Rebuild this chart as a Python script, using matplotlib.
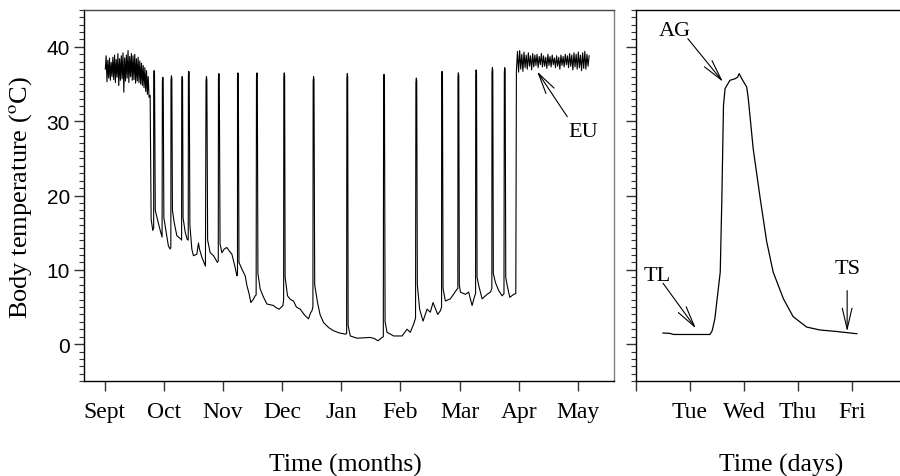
import matplotlib
matplotlib.use("Agg")
import matplotlib.pyplot as plt
import numpy as np

# ---------------- data ----------------
month_labels = ["Sept", "Oct", "Nov", "Dec", "Jan", "Feb", "Mar", "Apr", "May"]
day_labels = ["", "Tue", "Wed", "Thu", "Fri"]

# early-autumn euthermic record (month units, Sept = 0)
eu1_start, eu1_end = 0.01, 0.75
eu1_temp = [37.0, 38.8, 35.3, 38.2, 35.8, 38.5, 35.5, 37.9, 36.0, 38.6, 35.6, 38.9,
            35.2, 38.3, 35.9, 39.1, 34.8, 38.4, 35.5, 38.8, 35.7, 39.2, 33.9, 38.5,
            35.4, 38.9, 35.8, 39.5, 35.2, 38.7, 36.0, 39.1, 35.5, 38.8, 35.6, 39.0,
            35.1, 38.4, 35.4, 38.6, 35.2, 38.1, 35.0, 37.8, 34.8, 37.5, 34.5, 37.2,
            34.0, 36.8, 33.6, 36.0, 33.2]

# periodic arousals: time (months) and peak body temperature
arousal_t = [0.835, 0.982, 1.128, 1.309, 1.422, 1.720, 1.930, 2.252, 2.573, 3.035,
             3.531, 4.101, 4.722, 5.268, 5.703, 5.979, 6.279, 6.554, 6.763]
arousal_peak = [36.8, 35.9, 36.1, 36.0, 36.7, 36.0, 36.4, 36.5, 36.5, 36.5,
                36.0, 36.4, 36.3, 35.8, 36.7, 36.5, 36.9, 37.2, 37.2]

# torpor bouts (time in months, body temperature)
bouts = [
    [(0.768, 33.5), (0.785, 16.8), (0.813, 15.3), (0.828, 15.6)],
    [(0.855, 18.0), (0.925, 15.7), (0.970, 14.4)],
    [(1.000, 17.0), (1.077, 13.2), (1.106, 12.8), (1.118, 13.0)],
    [(1.145, 18.0), (1.174, 16.4), (1.219, 14.6), (1.292, 14.1), (1.300, 14.0)],
    [(1.325, 17.0), (1.360, 15.1), (1.394, 14.1), (1.412, 14.0)],
    [(1.440, 16.0), (1.473, 12.8), (1.500, 11.9), (1.558, 12.1), (1.585, 13.6),
     (1.602, 12.8), (1.642, 11.7), (1.703, 10.5)],
    [(1.740, 14.0), (1.783, 12.3), (1.839, 11.9), (1.906, 11.0), (1.920, 11.2)],
    [(1.950, 13.5), (1.981, 12.3), (2.020, 12.8), (2.065, 13.0), (2.100, 12.6),
     (2.150, 12.1), (2.200, 10.5), (2.235, 9.2), (2.245, 9.5)],
    [(2.270, 11.0), (2.319, 10.1), (2.375, 9.2), (2.404, 7.9), (2.440, 6.8),
     (2.471, 5.6), (2.510, 6.0), (2.544, 6.5), (2.560, 6.6)],
    [(2.590, 9.5), (2.629, 7.4), (2.680, 6.4), (2.742, 5.4), (2.854, 5.2),
     (2.900, 4.9), (2.950, 4.7), (3.013, 5.2), (3.025, 6.0)],
    [(3.050, 9.0), (3.091, 6.5), (3.140, 6.0), (3.192, 5.8), (3.240, 5.0),
     (3.306, 4.7), (3.380, 3.9), (3.446, 3.4), (3.480, 4.2), (3.504, 4.5), (3.520, 5.0)],
    [(3.550, 8.0), (3.598, 5.6), (3.640, 4.0), (3.700, 2.9), (3.790, 2.2),
     (3.869, 1.8), (3.970, 1.5), (4.067, 1.35), (4.090, 1.4)],
    [(4.115, 2.5), (4.152, 1.1), (4.265, 0.8), (4.390, 0.85), (4.490, 0.9),
     (4.560, 0.75), (4.620, 0.45), (4.688, 0.9), (4.710, 1.0)],
    [(4.740, 3.0), (4.773, 1.6), (4.884, 1.1), (5.027, 1.1), (5.111, 2.0),
     (5.167, 1.6), (5.223, 2.7), (5.255, 3.5)],
    [(5.285, 8.0), (5.324, 4.7), (5.382, 3.1), (5.449, 4.7), (5.505, 4.3),
     (5.551, 5.6), (5.629, 4.0), (5.675, 4.5), (5.695, 5.0)],
    [(5.720, 7.5), (5.759, 5.8), (5.844, 6.1), (5.957, 7.4), (5.970, 7.5)],
    [(5.995, 8.0), (6.013, 7.0), (6.098, 6.7), (6.153, 7.0), (6.211, 5.2),
     (6.255, 6.5), (6.270, 6.8)],
    [(6.295, 9.0), (6.323, 7.9), (6.380, 6.1), (6.465, 6.7), (6.521, 7.0), (6.545, 7.5)],
    [(6.570, 9.5), (6.605, 8.3), (6.661, 7.2), (6.719, 6.5), (6.750, 6.8)],
    [(6.780, 9.0), (6.804, 7.9), (6.848, 6.3), (6.915, 6.7), (6.950, 6.8)],
]

# spring euthermic record
eu2_start, eu2_end = 6.960, 8.19
eu2_temp = [36.8, 39.4, 36.6, 39.5, 37.0, 39.0, 36.7, 39.3, 37.2, 38.9, 37.0, 39.2,
            37.4, 38.8, 36.9, 39.1, 37.3, 38.9, 37.5, 39.0, 37.2, 38.7, 37.6, 39.1,
            37.3, 38.8, 37.4, 38.6, 37.1, 39.0, 37.5, 38.7, 37.3, 38.9, 37.6, 38.5,
            37.2, 38.8, 37.4, 38.6, 37.0, 38.9, 37.5, 38.7, 37.3, 39.0, 37.6, 38.8,
            37.2, 39.1, 37.4, 38.9, 36.9, 39.2, 37.3, 39.0, 37.0, 39.3, 37.2, 38.9,
            36.8, 39.2, 37.1, 39.4, 37.0, 39.0, 37.4, 38.8]

# single arousal episode (days, Mon = 0)
ep_t = [0.50, 0.62, 0.70, 1.00, 1.37, 1.41, 1.46, 1.56, 1.59, 1.62, 1.65, 1.74,
        1.83, 1.88, 1.91, 1.96, 2.05, 2.08, 2.17, 2.30, 2.42, 2.54, 2.73, 2.91,
        3.16, 3.41, 3.72, 4.09]
ep_temp = [1.5, 1.45, 1.3, 1.3, 1.3, 1.8, 3.4, 9.7, 19.6, 32.1, 34.4, 35.5,
           35.7, 35.9, 36.4, 35.7, 34.6, 33.0, 26.3, 19.6, 13.8, 9.7, 6.1, 3.7,
           2.3, 1.9, 1.7, 1.4]

# ---------------- build record ----------------
t_all = list(np.linspace(eu1_start, eu1_end, len(eu1_temp)))
y_all = list(eu1_temp)
for i, bout in enumerate(bouts):
    for (bt, by) in bout:
        t_all.append(bt)
        y_all.append(by)
    if i < len(arousal_t):
        tp, pk = arousal_t[i], arousal_peak[i]
        t_all += [tp - 0.007, tp, tp + 0.007]
        y_all += [pk - 0.6, pk, pk - 0.4]
t_all += list(np.linspace(eu2_start, eu2_end, len(eu2_temp)))
y_all += list(eu2_temp)

# ---------------- figure ----------------
serif = ["Liberation Serif", "DejaVu Serif"]
sans = ["Liberation Sans", "DejaVu Sans"]
plt.rcParams["mathtext.fontset"] = "stix"

fig = plt.figure(figsize=(9, 4.77), dpi=100)
W, H = 900.0, 477.0
bot = (H - 382.3) / H
hgt = (382.3 - 10.7) / H
ax1 = fig.add_axes([84 / W, bot, (614 - 84) / W, hgt])
ax2 = fig.add_axes([636 / W, bot, 270 / W, hgt])

ax1.plot(t_all, y_all, color="black", lw=0.8)
ax1.set_xlim(-0.35, 8.61)
ax1.set_ylim(-5, 45)
ax1.set_xticks(range(len(month_labels)))
ax1.set_xticklabels(month_labels, fontfamily=serif, fontsize=17)
ax1.set_yticks([0, 10, 20, 30, 40])
ax1.set_yticklabels(["0", "10", "20", "30", "40"], fontfamily=sans, fontsize=15)
ax1.set_yticks(np.arange(-5, 46, 1), minor=True)
ax1.tick_params(axis="x", which="major", direction="out", length=7, width=1,
                pad=7, color="#333333")
ax1.tick_params(axis="y", which="major", direction="out", length=7, width=1,
                pad=3, color="#333333")
ax1.tick_params(axis="y", which="minor", direction="out", length=3.5, width=0.8,
                color="#333333")
ax1.tick_params(axis="x", which="minor", bottom=False)
ax1.spines["right"].set_color("#808080")
ax1.spines["top"].set_color("#444444")
for s in ax1.spines.values():
    s.set_linewidth(1.0)

fig.text(21 / W, (H - 197) / H, "Body temperature ($^{\\mathrm{o}}$C)",
         rotation=90, ha="center", va="center", fontfamily=serif, fontsize=19)
fig.text(345 / W, (H - 465) / H, "Time (months)", ha="center", va="center",
         fontfamily=serif, fontsize=18.5)
fig.text(781 / W, (H - 465) / H, "Time (days)", ha="center", va="center",
         fontfamily=serif, fontsize=18.5)

arrow_kw = dict(arrowstyle="->,head_length=1.5,head_width=0.35",
                color="black", lw=0.8, mutation_scale=10,
                shrinkA=0, shrinkB=0)
ax1.annotate("", xy=(7.31, 36.7), xytext=(7.82, 30.6), arrowprops=arrow_kw)
ax1.text(8.09, 28.6, "EU", ha="center", va="center", fontfamily=serif, fontsize=16)

ax2.plot(ep_t, ep_temp, color="black", lw=0.9)
ax2.set_xlim(0, 5)
ax2.set_ylim(-5, 45)
ax2.set_xticks(range(len(day_labels)))
ax2.set_xticklabels(day_labels, fontfamily=serif, fontsize=17)
ax2.set_yticks([0, 10, 20, 30, 40])
ax2.set_yticklabels([])
ax2.set_yticks(np.arange(-5, 46, 1), minor=True)
ax2.tick_params(axis="x", which="major", direction="out", length=7, width=1,
                pad=7, color="#333333")
ax2.tick_params(axis="y", which="major", direction="out", length=7, width=1,
                color="#333333")
ax2.tick_params(axis="y", which="minor", direction="out", length=3.5, width=0.8,
                color="#333333")
ax2.tick_params(axis="x", which="minor", bottom=False)
ax2.spines["right"].set_visible(False)
for s in ax2.spines.values():
    s.set_linewidth(1.0)

ax2.annotate("", xy=(1.61, 35.3), xytext=(0.96, 41.1), arrowprops=arrow_kw)
ax2.text(0.72, 42.2, "AG", ha="center", va="center", fontfamily=serif, fontsize=16)
ax2.annotate("", xy=(1.11, 2.1), xytext=(0.50, 8.2), arrowprops=arrow_kw)
ax2.text(0.39, 9.2, "TL", ha="center", va="center", fontfamily=serif, fontsize=16)
ax2.annotate("", xy=(3.91, 1.7), xytext=(3.91, 7.2), arrowprops=arrow_kw)
ax2.text(3.91, 10.2, "TS", ha="center", va="center", fontfamily=serif, fontsize=16)

fig.savefig("out.png", dpi=100)
